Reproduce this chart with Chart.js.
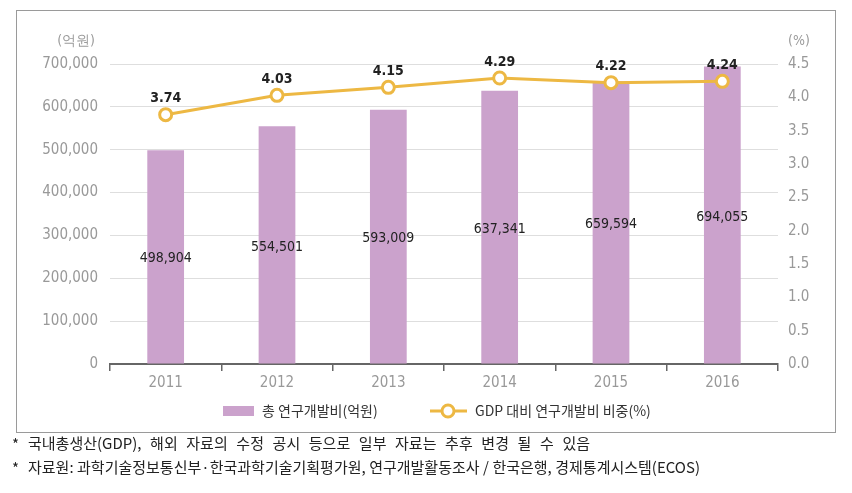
<!DOCTYPE html>
<html><head><meta charset="utf-8">
<script src="https://cdn.jsdelivr.net/npm/chart.js@4"></script>
<style>html,body{margin:0;padding:0;background:#fff;}canvas{display:block;}</style>
</head><body>
<div style="width:852px;height:493px;position:relative"><canvas id="c" width="852" height="493"></canvas></div>
<script>
const years = ['2011','2012','2013','2014','2015','2016'];
const rndTotal = [498904, 554501, 593009, 637341, 659594, 694055];
const gdpRatio = [3.74, 4.03, 4.15, 4.29, 4.22, 4.24];
const leftTicks = [0,100000,200000,300000,400000,500000,600000,700000];
const rightTicks = [0,0.5,1,1.5,2,2.5,3,3.5,4,4.5];
const seriesNames = ['총 연구개발비(억원)', 'GDP 대비 연구개발비 비중(%)'];
const notes = ['국내총생산(GDP), 해외 자료의 수정 공시 등으로 일부 자료는 추후 변경 될 수 있음',
               '자료원: 과학기술정보통신부·한국과학기술기획평가원, 연구개발활동조사 / 한국은행, 경제통계시스템(ECOS)'];

const BAR = '#CBA2CC', LINE = '#EDB843';
const NUM = '"Liberation Sans Narrow","DejaVu Sans Condensed","Roboto",sans-serif';
const KR = '"Noto Sans CJK KR","Noto Sans",sans-serif';

const fmt = v => v.toLocaleString('en-US');

function fitWords(ctx, text, x, y, target) {
  ctx.wordSpacing = '0px';
  const w = ctx.measureText(text).width;
  const n = Math.max(1, text.split(' ').length - 1);
  const extra = Math.max(0, (target - w) / n);
  ctx.wordSpacing = extra.toFixed(2) + 'px';
  ctx.fillText(text, x, y);
  ctx.wordSpacing = '0px';
}

const extras = {
  id: 'extras',
  afterDraw(chart) {
    const ctx = chart.ctx;
    ctx.save();
    // border
    ctx.strokeStyle = '#9a9a9a'; ctx.lineWidth = 1;
    ctx.strokeRect(16.5, 10.5, 819, 422);
    // axis titles
    ctx.fillStyle = '#9a9a9a';
    ctx.font = '14px ' + NUM;
    ctx.textBaseline = 'middle';
    ctx.textAlign = 'right'; ctx.fillText('(억원)', 95, 41);
    ctx.textAlign = 'left'; ctx.fillText('(%)', 788, 41);
    // bar labels
    ctx.fillStyle = '#222';
    ctx.font = '14px ' + NUM;
    ctx.textAlign = 'center';
    chart.getDatasetMeta(0).data.forEach((el, i) => {
      ctx.fillText(fmt(rndTotal[i]), el.x, (el.y + el.base) / 2 + 2);
    });
    // line labels
    ctx.font = '600 14px ' + NUM;
    chart.getDatasetMeta(1).data.forEach((el, i) => {
      ctx.fillText(gdpRatio[i].toFixed(2), el.x, el.y - 16);
    });
    // legend
    ctx.fillStyle = BAR; ctx.fillRect(223, 406, 31, 10);
    ctx.fillStyle = '#333'; ctx.font = '14px ' + KR; ctx.textAlign = 'left';
    fitWords(ctx, seriesNames[0], 262, 411, 115);
    ctx.strokeStyle = LINE; ctx.lineWidth = 3;
    ctx.beginPath(); ctx.moveTo(430, 411); ctx.lineTo(467, 411); ctx.stroke();
    ctx.fillStyle = '#fff'; ctx.beginPath(); ctx.arc(448, 411, 6, 0, Math.PI*2); ctx.fill(); ctx.stroke();
    ctx.fillStyle = '#333';
    fitWords(ctx, seriesNames[1], 475, 411, 175);
    // notes
    ctx.fillStyle = '#222'; ctx.font = '15px ' + KR;
    ctx.fillText('*', 12, 444); ctx.fillText('*', 12, 468);
    fitWords(ctx, notes[0], 28, 443, 562);
    fitWords(ctx, notes[1], 28, 467, 672);
    ctx.restore();
  }
};

new Chart(document.getElementById('c'), {
  data: {
    labels: years,
    datasets: [
      { type: 'bar', label: seriesNames[0], data: rndTotal, yAxisID: 'y', backgroundColor: BAR,
        barPercentage: 0.33, categoryPercentage: 1, order: 2 },
      { type: 'line', label: seriesNames[1], data: gdpRatio, yAxisID: 'y1', borderColor: LINE, borderWidth: 3,
        pointRadius: 6, pointBorderWidth: 3, pointBackgroundColor: '#fff', pointBorderColor: LINE, order: 1 }
    ]
  },
  options: {
    responsive: false, animation: false,
    layout: { padding: { top: 64, left: 0, right: 0, bottom: 0 } },
    plugins: { legend: { display: false }, tooltip: { enabled: false } },
    scales: {
      x: {
        grid: { offset: true, drawOnChartArea: false, drawTicks: true, tickLength: 7, color: '#666', lineWidth: 1.5 },
        border: { display: true, color: '#666', width: 2 },
        ticks: { color: '#999', font: { family: NUM, size: 15 }, padding: 3 },
        afterFit(s) { s.height = 129; }
      },
      y: {
        position: 'left', min: 0, max: 700000,
        afterBuildTicks(s) { s.ticks = leftTicks.map(v => ({ value: v })); },
        ticks: { color: '#999', font: { family: NUM, size: 15 }, padding: 12, callback: v => fmt(v) },
        grid: { color: '#dedede', lineWidth: 1, drawTicks: false },
        border: { display: false },
        afterFit(s) { s.width = 110; }
      },
      y1: {
        position: 'right', min: 0, max: 4.5,
        afterBuildTicks(s) { s.ticks = rightTicks.map(v => ({ value: v })); },
        ticks: { color: '#999', font: { family: NUM, size: 15 }, padding: 10, callback: v => Number(v).toFixed(1) },
        grid: { drawOnChartArea: false, drawTicks: false },
        border: { display: false },
        afterFit(s) { s.width = 74; }
      }
    }
  },
  plugins: [extras]
});
</script>
</body></html>
